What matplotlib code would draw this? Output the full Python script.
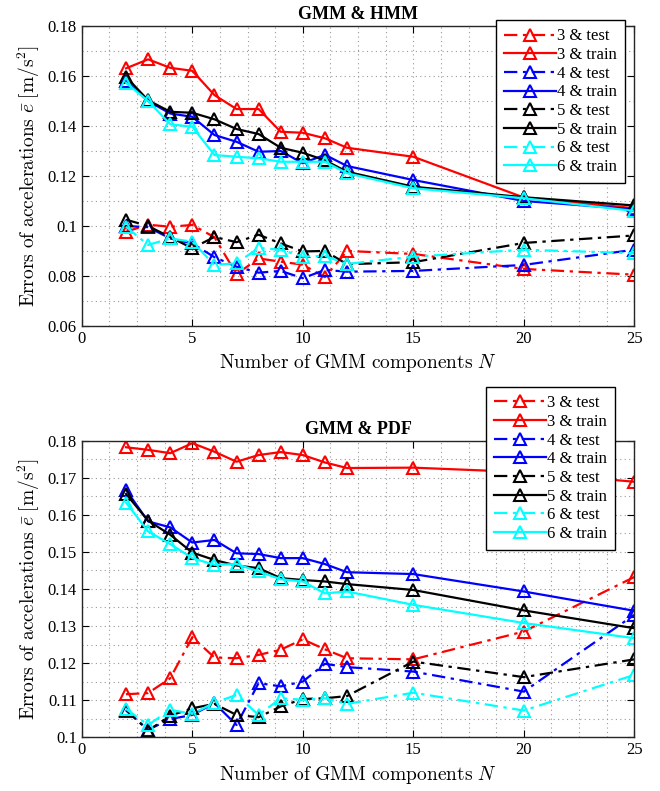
import matplotlib.pyplot as plt
import numpy as np
from matplotlib.ticker import MultipleLocator

# Число компонент GMM
N = [2, 3, 4, 5, 6, 7, 8, 9, 10, 11, 12, 15, 20, 25]

# GMM & HMM
hmm_test = {
    3: [0.0977, 0.1005, 0.0997, 0.1004, 0.0955, 0.0807, 0.0870, 0.0857, 0.0845, 0.0795, 0.0900, 0.0888, 0.0828, 0.0805],
    4: [0.1000, 0.0995, 0.0950, 0.0930, 0.0875, 0.0837, 0.0813, 0.0820, 0.0791, 0.0824, 0.0817, 0.0820, 0.0844, 0.0905],
    5: [0.1025, 0.1000, 0.0955, 0.0911, 0.0956, 0.0935, 0.0965, 0.0930, 0.0898, 0.0900, 0.0847, 0.0855, 0.0932, 0.0962],
    6: [0.0997, 0.0924, 0.0950, 0.0937, 0.0844, 0.0851, 0.0912, 0.0905, 0.0877, 0.0880, 0.0848, 0.0877, 0.0905, 0.0891],
}
hmm_train = {
    3: [0.1631, 0.1667, 0.1633, 0.1621, 0.1524, 0.1468, 0.1468, 0.1377, 0.1373, 0.1351, 0.1313, 0.1277, 0.1114, 0.1071],
    4: [0.1580, 0.1500, 0.1450, 0.1437, 0.1364, 0.1337, 0.1297, 0.1300, 0.1251, 0.1285, 0.1240, 0.1184, 0.1100, 0.1067],
    5: [0.1597, 0.1503, 0.1457, 0.1453, 0.1427, 0.1388, 0.1368, 0.1313, 0.1293, 0.1263, 0.1217, 0.1157, 0.1115, 0.1082],
    6: [0.1573, 0.1500, 0.1407, 0.1397, 0.1284, 0.1277, 0.1271, 0.1257, 0.1257, 0.1257, 0.1211, 0.1151, 0.1111, 0.1060],
}

# GMM & PDF
pdf_test = {
    3: [0.1116, 0.1119, 0.1159, 0.1270, 0.1215, 0.1213, 0.1222, 0.1236, 0.1264, 0.1237, 0.1213, 0.1210, 0.1285, 0.1432],
    4: [0.1072, 0.1020, 0.1049, 0.1060, 0.1092, 0.1033, 0.1146, 0.1137, 0.1150, 0.1198, 0.1189, 0.1177, 0.1123, 0.1330],
    5: [0.1074, 0.1018, 0.1058, 0.1078, 0.1090, 0.1060, 0.1054, 0.1083, 0.1103, 0.1105, 0.1111, 0.1204, 0.1162, 0.1210],
    6: [0.1076, 0.1033, 0.1074, 0.1063, 0.1093, 0.1114, 0.1060, 0.1105, 0.1101, 0.1105, 0.1090, 0.1120, 0.1072, 0.1168],
}
pdf_train = {
    3: [0.1782, 0.1775, 0.1766, 0.1793, 0.1770, 0.1743, 0.1761, 0.1769, 0.1761, 0.1741, 0.1726, 0.1727, 0.1715, 0.1689],
    4: [0.1667, 0.1582, 0.1566, 0.1525, 0.1532, 0.1496, 0.1494, 0.1483, 0.1483, 0.1467, 0.1445, 0.1440, 0.1393, 0.1341],
    5: [0.1656, 0.1584, 0.1546, 0.1498, 0.1478, 0.1463, 0.1456, 0.1429, 0.1424, 0.1420, 0.1413, 0.1397, 0.1342, 0.1294],
    6: [0.1633, 0.1555, 0.1521, 0.1483, 0.1465, 0.1467, 0.1447, 0.1426, 0.1420, 0.1388, 0.1393, 0.1357, 0.1308, 0.1267],
}

colors = {3: 'red', 4: 'blue', 5: 'black', 6: 'cyan'}

plt.rcParams['font.family'] = 'Liberation Serif'
plt.rcParams['mathtext.fontset'] = 'cm'

fig = plt.figure(figsize=(6.6, 7.91), dpi=100)
ax1 = fig.add_axes([0.124, 0.588, 0.837, 0.379])
ax2 = fig.add_axes([0.124, 0.068, 0.837, 0.375])


def fmt(v, p):
    s = '%.2f' % v
    return '0.1' if abs(v - 0.1) < 1e-9 else s


def draw(ax, test, train, title, ylim, ymaj, ymin, leg_anchor):
    for k in [3, 4, 5, 6]:
        ax.plot(N, test[k], color=colors[k], linestyle=(0, (6, 2.5, 1.5, 2.5)), lw=1.6,
                marker='^', ms=9, mfc='none', mew=1.5, label='%d & test' % k)
        ax.plot(N, train[k], color=colors[k], linestyle='-', lw=1.6,
                marker='^', ms=9, mfc='none', mew=1.5, label='%d & train' % k)
    ax.set_xlim(0, 25)
    ax.set_ylim(*ylim)
    ax.xaxis.set_major_locator(MultipleLocator(5))
    ax.xaxis.set_minor_locator(MultipleLocator(1.25))
    ax.yaxis.set_major_locator(MultipleLocator(ymaj))
    ax.yaxis.set_minor_locator(MultipleLocator(ymin))
    ax.yaxis.set_major_formatter(plt.FuncFormatter(fmt))
    ax.grid(which='both', linestyle=(0, (1, 3)), linewidth=0.8, color='#999999')
    ax.tick_params(which='both', direction='in', top=True, right=True, labelsize=12)
    ax.tick_params(which='major', length=5)
    ax.tick_params(which='minor', length=0)
    for s in ax.spines.values():
        s.set_linewidth(1.0)
        s.set_color('#262626')
    ax.set_title(title, fontweight='bold', fontsize=13, pad=5)
    ax.set_xlabel(r'$\mathrm{Number\ of\ GMM\ components}\ N$', fontsize=14)
    ax.set_ylabel(r'$\mathrm{Errors\ of\ accelerations}\ \bar{e}\ \mathrm{[m/s^2]}$', fontsize=14)
    leg = ax.legend(loc='upper right', bbox_to_anchor=leg_anchor, fontsize=12,
                    handlelength=3.1, labelspacing=0.16, handletextpad=0.1,
                    borderpad=0.5, borderaxespad=0, fancybox=False, framealpha=1)
    leg.get_frame().set_edgecolor('black')
    leg.get_frame().set_linewidth(1.0)


draw(ax1, hmm_test, hmm_train, 'GMM & HMM', (0.06, 0.18), 0.02, 0.01, (0.984, 1.02))
draw(ax2, pdf_test, pdf_train, 'GMM & PDF', (0.1, 0.18), 0.01, 0.005, (0.966, 1.181))

plt.savefig('out.png', dpi=100)
